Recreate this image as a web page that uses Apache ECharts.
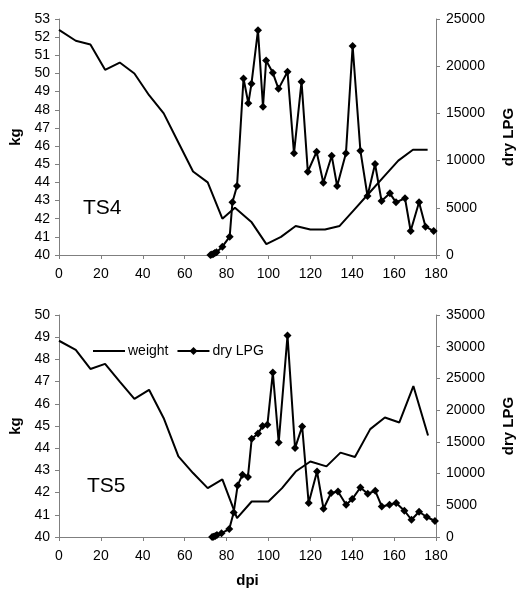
<!DOCTYPE html>
<html>
<head>
<meta charset="utf-8">
<script src="https://cdn.jsdelivr.net/npm/echarts@6/dist/echarts.min.js"></script>
<style>html,body{margin:0;padding:0;background:#fff}#c{width:524px;height:592px}</style>
</head>
<body>
<div id="c"></div>
<script>
// ---- Data ----
const xTicks = [0, 20, 40, 60, 80, 100, 120, 140, 160, 180];

// TS4 (top panel)
const ts4WeightDpi = [0, 8, 15, 22, 29, 36, 43, 50, 57, 64, 71, 78, 84, 92, 99, 106, 113, 120, 127, 134, 141, 148, 155, 162, 169, 176];
const ts4WeightKg  = [52.4, 51.8, 51.6, 50.2, 50.6, 50.0, 48.8, 47.8, 46.2, 44.6, 44.0, 42.0, 42.6, 41.8, 40.6, 41.0, 41.6, 41.4, 41.4, 41.6, 42.5, 43.4, 44.3, 45.2, 45.8, 45.8];
const ts4LpgDpi = [72.3, 73, 73.7, 74.4, 75.2, 78, 81.5, 82.8, 85, 88.1, 90.4, 91.9, 95, 97.4, 98.9, 102.1, 104.8, 109.1, 112.2, 115.8, 118.8, 123, 126.2, 130.2, 132.8, 137, 140.2, 143.9, 147.3, 150.9, 154, 158, 160.9, 165.2, 167.9, 171.9, 175, 178.9];
const ts4Lpg    = [0, 50, 100, 200, 300, 880, 1940, 5580, 7310, 18700, 16070, 18150, 23800, 15710, 20600, 19300, 17600, 19420, 10770, 18360, 8830, 10940, 7660, 10520, 7310, 10770, 22140, 11050, 6250, 9640, 5720, 6530, 5580, 6010, 2540, 5580, 3000, 2540];

// TS5 (bottom panel)
const ts5WeightDpi = [0, 8, 15, 22, 29, 36, 43, 50, 57, 64, 71, 78, 85, 92, 100, 106.5, 113, 120, 127.7, 134.4, 141.3, 148.6, 155.6, 162.5, 169.2, 176.2];
const ts5WeightKg  = [48.84, 48.43, 47.57, 47.8, 47.0, 46.22, 46.63, 45.35, 43.63, 42.88, 42.2, 42.6, 40.85, 41.6, 41.6, 42.2, 42.95, 43.4, 43.18, 43.8, 43.6, 44.86, 45.38, 45.16, 46.8, 44.57];
const ts5LpgDpi = [73.1, 73.8, 74.6, 75.4, 77.6, 81.3, 83.4, 85.3, 87.6, 90.2, 92, 95, 97.2, 99.5, 102.1, 104.9, 109.1, 112.7, 116.1, 119.2, 123.2, 126.3, 129.9, 133.2, 137.1, 140, 143.9, 147.4, 151, 154.1, 157.8, 161, 164.9, 168.3, 171.9, 175.6, 179.5];
const ts5Lpg    = [0, 50, 150, 300, 600, 1260, 3870, 8130, 9810, 9450, 15480, 16300, 17500, 17690, 25920, 14900, 31750, 14020, 17420, 5350, 10330, 4460, 6930, 7180, 5090, 5980, 7810, 6820, 7290, 4820, 5090, 5350, 4140, 2720, 3980, 3150, 2520];

const zip = (a, b) => a.map((v, i) => [v, b[i]]);

const FONT = 'Liberation Sans, Arial, Helvetica, sans-serif';
const AX = '#7f7f7f';

function xAxis(grid, withName) {
  return {
    type: 'value', gridIndex: grid, min: 0, max: 180, interval: 20,
    axisLine: { lineStyle: { color: AX, width: 1 } },
    axisTick: { length: 4, lineStyle: { color: AX } },
    axisLabel: { color: '#000', fontSize: 14, fontFamily: FONT, margin: 12 },
    splitLine: { show: false },
    name: withName ? 'dpi' : '', nameLocation: 'middle', nameGap: 36,
    nameTextStyle: { color: '#000', fontSize: 15, fontWeight: 'bold', fontFamily: FONT }
  };
}
function yAxis(grid, pos, min, max, interval, name, gap) {
  return {
    type: 'value', gridIndex: grid, position: pos, min: min, max: max, interval: interval,
    axisLine: { show: true, lineStyle: { color: AX, width: 1 } },
    axisTick: { show: true, length: 4, lineStyle: { color: AX } },
    axisLabel: { color: '#000', fontSize: 14, fontFamily: FONT, margin: pos === 'left' ? 9 : 10,
                 formatter: (v) => String(v) },
    splitLine: { show: false },
    name: name, nameLocation: 'middle', nameGap: gap, nameRotate: 90,
    nameTextStyle: { color: '#000', fontSize: 15, fontWeight: 'bold', fontFamily: FONT }
  };
}
const lineStyle = { color: '#000', width: 2 };

const option = {
  backgroundColor: '#fff',
  animation: false,
  grid: [
    { left: 59, right: 77, top: 19, height: 236 },
    { left: 59, right: 77, top: 315, height: 222 }
  ],
  xAxis: [xAxis(0, false), xAxis(1, true)],
  yAxis: [
    yAxis(0, 'left', 40, 53, 1, 'kg', 36),
    yAxis(0, 'right', 0, 25000, 5000, 'dry LPG', 65),
    yAxis(1, 'left', 40, 50, 1, 'kg', 36),
    yAxis(1, 'right', 0, 35000, 5000, 'dry LPG', 65)
  ],
  legend: {
    left: 88, top: 339, itemWidth: 32, itemHeight: 10, itemGap: 8,
    textStyle: { color: '#000', fontSize: 14, fontFamily: FONT, padding: [0, 0, 0, -2] },
    data: [
      { name: 'weight', icon: 'path://M0,0L32,0L32,2L0,2Z' },
      { name: 'dry LPG' }
    ]
  },
  graphic: [
    { type: 'text', left: 83, top: 198, style: { text: 'TS4', fontSize: 21, fontFamily: FONT, fill: '#000' } },
    { type: 'text', left: 87, top: 476, style: { text: 'TS5', fontSize: 21, fontFamily: FONT, fill: '#000' } }
  ],
  series: [
    { name: 'weight', type: 'line', xAxisIndex: 0, yAxisIndex: 0, data: zip(ts4WeightDpi, ts4WeightKg),
      symbol: 'none', lineStyle: lineStyle, itemStyle: { color: '#000' } },
    { name: 'dry LPG', type: 'line', xAxisIndex: 0, yAxisIndex: 1, data: zip(ts4LpgDpi, ts4Lpg),
      symbol: 'diamond', symbolSize: 8, lineStyle: lineStyle, itemStyle: { color: '#000' } },
    { name: 'weight', type: 'line', xAxisIndex: 1, yAxisIndex: 2, data: zip(ts5WeightDpi, ts5WeightKg),
      symbol: 'none', lineStyle: lineStyle, itemStyle: { color: '#000' } },
    { name: 'dry LPG', type: 'line', xAxisIndex: 1, yAxisIndex: 3, data: zip(ts5LpgDpi, ts5Lpg),
      symbol: 'diamond', symbolSize: 8, lineStyle: lineStyle, itemStyle: { color: '#000' } }
  ]
};

const chart = echarts.init(document.getElementById('c'), null, { renderer: 'canvas' });
chart.setOption(option);
</script>
</body>
</html>
